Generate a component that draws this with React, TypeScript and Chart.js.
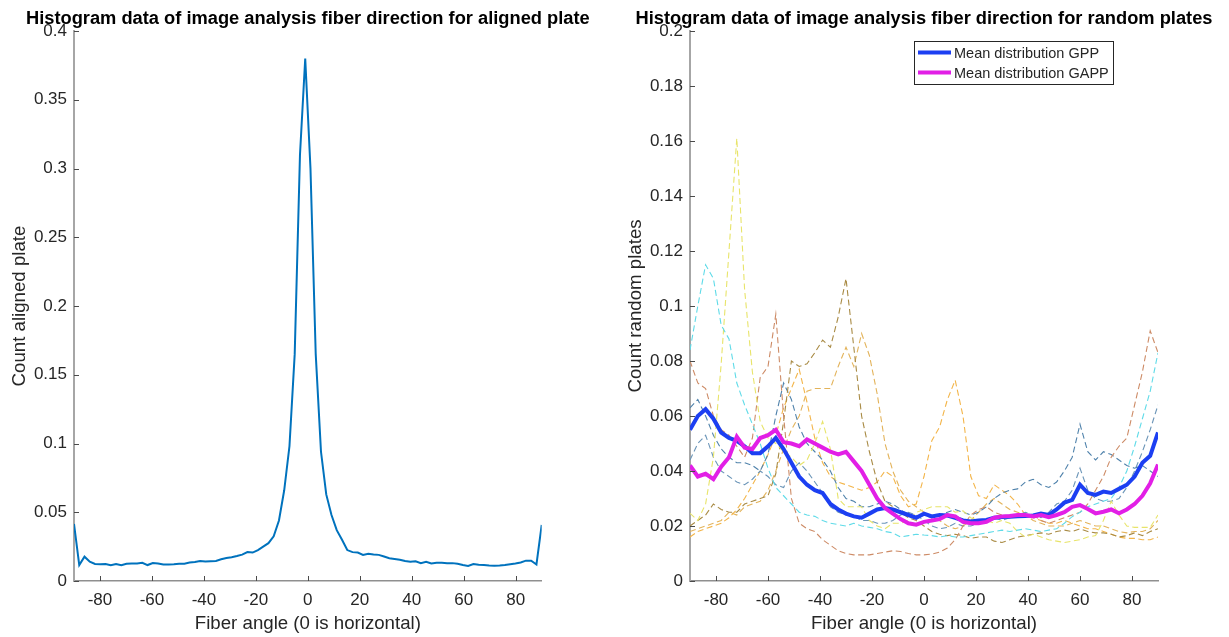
import React, { useEffect, useRef } from 'react';
import { Chart, registerables } from 'chart.js';

Chart.register(...registerables);

const FONT = '"Liberation Sans", Arial, Helvetica, sans-serif';
const TEXT_COLOR = '#262626';

// ---- aligned plate: 90 histogram bins spread over -90..90 degrees ----
const alignedAngles = [
  -90, -87.98, -85.96, -83.93, -81.91, -79.89, -77.87, -75.84, -73.82, -71.8,
  -69.78, -67.75, -65.73, -63.71, -61.69, -59.66, -57.64, -55.62, -53.6, -51.57,
  -49.55, -47.53, -45.51, -43.48, -41.46, -39.44, -37.42, -35.39, -33.37, -31.35,
  -29.33, -27.3, -25.28, -23.26, -21.24, -19.21, -17.19, -15.17, -13.15, -11.12,
  -9.1, -7.08, -5.06, -3.03, -1.01, 1.01, 3.03, 5.06, 7.08, 9.1,
  11.12, 13.15, 15.17, 17.19, 19.21, 21.24, 23.26, 25.28, 27.3, 29.33,
  31.35, 33.37, 35.39, 37.42, 39.44, 41.46, 43.48, 45.51, 47.53, 49.55,
  51.57, 53.6, 55.62, 57.64, 59.66, 61.69, 63.71, 65.73, 67.75, 69.78,
  71.8, 73.82, 75.84, 77.87, 79.89, 81.91, 83.93, 85.96, 87.98, 90,
];
const alignedCounts = [
  0.0415, 0.0116, 0.0177, 0.014, 0.0124, 0.0122, 0.0124, 0.0114, 0.0124, 0.0114,
  0.0125, 0.0128, 0.0128, 0.0133, 0.0116, 0.013, 0.0128, 0.012, 0.012, 0.0122,
  0.0126, 0.0126, 0.0134, 0.0138, 0.0145, 0.0142, 0.0144, 0.0146, 0.0158, 0.0167,
  0.0173, 0.0182, 0.0192, 0.021, 0.0207, 0.0225, 0.025, 0.0275, 0.0325, 0.044,
  0.066, 0.098, 0.165, 0.31, 0.38, 0.3, 0.165, 0.094, 0.063, 0.048,
  0.037, 0.03, 0.0225, 0.021, 0.0207, 0.019, 0.0198, 0.0193, 0.019, 0.0178,
  0.0165, 0.016, 0.0155, 0.0145, 0.014, 0.0143, 0.013, 0.014, 0.0128, 0.0132,
  0.0133, 0.013, 0.013, 0.0125, 0.0116, 0.011, 0.0124, 0.0118, 0.0116, 0.0113,
  0.0111, 0.0113, 0.0116, 0.0122, 0.0128, 0.0135, 0.0148, 0.0148, 0.012, 0.0408,
];

// ---- random plates: sampled every 3 degrees ----
const randomAngles = [
  -90, -87, -84, -81, -78, -75, -72, -69, -66, -63,
  -60, -57, -54, -51, -48, -45, -42, -39, -36, -33,
  -30, -27, -24, -21, -18, -15, -12, -9, -6, -3,
  0, 3, 6, 9, 12, 15, 18, 21, 24, 27,
  30, 33, 36, 39, 42, 45, 48, 51, 54, 57,
  60, 63, 66, 69, 72, 75, 78, 81, 84, 87, 90,
];
const meanGPP = [
  0.055, 0.06, 0.0625, 0.059, 0.054, 0.052, 0.051, 0.049, 0.0465, 0.0465,
  0.049, 0.052, 0.048, 0.043, 0.038, 0.035, 0.033, 0.032, 0.028, 0.026,
  0.0245, 0.0235, 0.023, 0.0245, 0.026, 0.0265, 0.026, 0.025, 0.024, 0.023,
  0.0245, 0.0235, 0.024, 0.0238, 0.023, 0.022, 0.0216, 0.022, 0.0222, 0.023,
  0.0233, 0.0234, 0.0235, 0.0236, 0.0238, 0.0245, 0.024, 0.026, 0.0285, 0.0295,
  0.035, 0.032, 0.0313, 0.0325, 0.032, 0.0335, 0.035, 0.038, 0.043, 0.0455, 0.054,
];
const meanGAPP = [
  0.042, 0.038, 0.039, 0.037, 0.0416, 0.045, 0.0525, 0.0485, 0.048, 0.052,
  0.053, 0.055, 0.0505, 0.05, 0.049, 0.0515, 0.05, 0.0485, 0.047, 0.046,
  0.047, 0.0435, 0.04, 0.035, 0.03, 0.0265, 0.0245, 0.0225, 0.021, 0.0205,
  0.0215, 0.022, 0.0225, 0.024, 0.0235, 0.0215, 0.021, 0.021, 0.0215, 0.023,
  0.0235, 0.0236, 0.024, 0.024, 0.0235, 0.024, 0.0232, 0.024, 0.025, 0.027,
  0.0276, 0.0262, 0.0246, 0.0252, 0.026, 0.0246, 0.026, 0.028, 0.031, 0.0355, 0.0424,
];
const plateCyan = [
  0.084, 0.1, 0.115, 0.11, 0.093, 0.088, 0.072, 0.064, 0.057, 0.05,
  0.041, 0.034, 0.031, 0.028, 0.025, 0.024, 0.0235, 0.022, 0.021, 0.0205,
  0.02, 0.021, 0.02, 0.0195, 0.019, 0.018, 0.0175, 0.016, 0.0165, 0.017,
  0.0167, 0.0165, 0.016, 0.0165, 0.016, 0.016, 0.0165, 0.017, 0.0175, 0.018,
  0.0185, 0.018, 0.0185, 0.019, 0.0185, 0.018, 0.0185, 0.019, 0.021, 0.0234,
  0.025, 0.027, 0.028, 0.029, 0.03, 0.034, 0.04, 0.049, 0.059, 0.069, 0.083,
];
const plateLightYellow = [
  0.0246, 0.022, 0.028, 0.045, 0.079, 0.12, 0.161, 0.106, 0.076, 0.058,
  0.052, 0.05, 0.047, 0.045, 0.042, 0.044, 0.05, 0.058, 0.048, 0.03,
  0.027, 0.027, 0.027, 0.022, 0.02, 0.019, 0.021, 0.021, 0.022, 0.025,
  0.026, 0.027, 0.027, 0.027, 0.025, 0.0255, 0.023, 0.022, 0.022, 0.021,
  0.022, 0.021, 0.018, 0.016, 0.017, 0.016, 0.015, 0.0145, 0.014, 0.0145,
  0.015, 0.016, 0.0165, 0.022, 0.029, 0.024, 0.02, 0.0195, 0.0195, 0.0195, 0.024,
];
const plateBrown = [
  0.08, 0.072, 0.07, 0.06, 0.055, 0.053, 0.049, 0.045, 0.052, 0.074,
  0.078, 0.097, 0.06, 0.03, 0.021, 0.019, 0.018, 0.015, 0.013, 0.011,
  0.01, 0.0095, 0.0095, 0.0095, 0.01, 0.0105, 0.011, 0.0107, 0.01, 0.0095,
  0.0095, 0.0098, 0.0105, 0.012, 0.015, 0.02, 0.024, 0.026, 0.027, 0.025,
  0.024, 0.023, 0.024, 0.024, 0.024, 0.022, 0.021, 0.022, 0.023, 0.024,
  0.025, 0.028, 0.033, 0.038, 0.045, 0.049, 0.052, 0.064, 0.076, 0.091, 0.083,
];
const plateDarkGold = [
  0.02, 0.022, 0.024, 0.028, 0.026, 0.025, 0.025, 0.028, 0.029, 0.03,
  0.031, 0.039, 0.058, 0.08, 0.078, 0.079, 0.083, 0.0876, 0.085, 0.096,
  0.11, 0.085, 0.06, 0.047, 0.036, 0.029, 0.027, 0.025, 0.023, 0.022,
  0.02, 0.018, 0.017, 0.0165, 0.017, 0.0165, 0.0155, 0.016, 0.016, 0.0145,
  0.014, 0.015, 0.016, 0.0165, 0.017, 0.0175, 0.017, 0.018, 0.0185, 0.018,
  0.019, 0.018, 0.0175, 0.0175, 0.017, 0.016, 0.0165, 0.0175, 0.0165, 0.018, 0.019,
];
const plateSteel = [
  0.063, 0.066, 0.06, 0.053, 0.048, 0.045, 0.043, 0.043, 0.042, 0.04,
  0.046, 0.06, 0.072, 0.066, 0.056, 0.05, 0.047, 0.044, 0.04, 0.034,
  0.03, 0.029, 0.027, 0.027, 0.028, 0.029, 0.028, 0.026, 0.024, 0.023,
  0.024, 0.023, 0.024, 0.025, 0.026, 0.025, 0.024, 0.025, 0.027, 0.03,
  0.032, 0.033, 0.0335, 0.036, 0.037, 0.035, 0.034, 0.036, 0.04, 0.045,
  0.057, 0.047, 0.044, 0.047, 0.046, 0.044, 0.042, 0.041, 0.042, 0.04, 0.038,
];
const plateSlate = [
  0.044, 0.05, 0.053, 0.045, 0.04, 0.038, 0.036, 0.035, 0.037, 0.04,
  0.038, 0.035, 0.034, 0.04, 0.043, 0.04, 0.036, 0.032, 0.027, 0.025,
  0.024, 0.0235, 0.022, 0.022, 0.021, 0.021, 0.022, 0.024, 0.025, 0.024,
  0.022, 0.02, 0.019, 0.0195, 0.021, 0.02, 0.02, 0.021, 0.022, 0.023,
  0.022, 0.023, 0.024, 0.025, 0.024, 0.023, 0.025, 0.028, 0.029, 0.033,
  0.041, 0.033, 0.03, 0.029, 0.029, 0.03, 0.034, 0.04, 0.047, 0.055, 0.064,
];
const plateOrange = [
  0.016, 0.018, 0.019, 0.02, 0.021, 0.023, 0.026, 0.03, 0.035, 0.04,
  0.046, 0.053, 0.063, 0.07, 0.077, 0.065, 0.052, 0.043, 0.038, 0.036,
  0.035, 0.034, 0.033, 0.034, 0.036, 0.04, 0.038, 0.031, 0.027, 0.028,
  0.038, 0.051, 0.056, 0.066, 0.073, 0.06, 0.038, 0.031, 0.03, 0.035,
  0.033, 0.031, 0.028, 0.024, 0.023, 0.022, 0.021, 0.021, 0.022, 0.021,
  0.02, 0.019, 0.019, 0.018, 0.017, 0.016, 0.0155, 0.0155, 0.015, 0.015, 0.016,
];
const plateAmber = [
  0.018, 0.019, 0.02, 0.021, 0.022, 0.025, 0.024, 0.027, 0.028, 0.029,
  0.033, 0.04, 0.048, 0.055, 0.06, 0.069, 0.07, 0.07, 0.07, 0.078,
  0.085, 0.078, 0.09, 0.082, 0.068, 0.05, 0.04, 0.033, 0.029, 0.027,
  0.025, 0.023, 0.022, 0.02, 0.019, 0.02, 0.022, 0.025, 0.028, 0.03,
  0.028, 0.026, 0.025, 0.024, 0.022, 0.021, 0.02, 0.02, 0.02, 0.021,
  0.022, 0.021, 0.02, 0.02, 0.019, 0.018, 0.0175, 0.018, 0.018, 0.019, 0.022,
];

const angleTicks = [-80, -60, -40, -20, 0, 20, 40, 60, 80];
const alignedYTicks = [0, 0.05, 0.1, 0.15, 0.2, 0.25, 0.3, 0.35, 0.4];
const randomYTicks = [0, 0.02, 0.04, 0.06, 0.08, 0.1, 0.12, 0.14, 0.16, 0.18, 0.2];

const plateSeries = [
  { values: plateCyan, color: '#5fdbe8' },
  { values: plateLightYellow, color: '#e8e46a' },
  { values: plateBrown, color: '#cd8b66' },
  { values: plateDarkGold, color: '#a98b45' },
  { values: plateSteel, color: '#4f82ab' },
  { values: plateSlate, color: '#6b95b8' },
  { values: plateOrange, color: '#f3b54a' },
  { values: plateAmber, color: '#e3b35a' },
];

const toPoints = (xs: number[], ys: number[]) => xs.map((x, i) => ({ x, y: ys[i] }));

// MATLAB-like axes: inward tick marks and a bold title centred on the plot area
const axesDecor = {
  id: 'axesDecor',
  afterDraw(chart: any, _args: any, opts: any) {
    const { ctx, chartArea, scales } = chart;
    ctx.save();
    ctx.strokeStyle = '#4a4a4a';
    ctx.lineWidth = 1;
    const len = 5;
    for (const t of scales.x.ticks) {
      const px = Math.round(scales.x.getPixelForValue(t.value)) + 0.5;
      ctx.beginPath();
      ctx.moveTo(px, chartArea.bottom);
      ctx.lineTo(px, chartArea.bottom - len);
      ctx.stroke();
    }
    for (const t of scales.y.ticks) {
      const py = Math.round(scales.y.getPixelForValue(t.value)) + 0.5;
      ctx.beginPath();
      ctx.moveTo(chartArea.left, py);
      ctx.lineTo(chartArea.left + len, py);
      ctx.stroke();
    }
    if (opts && opts.title) {
      ctx.font = `bold 18.3px ${FONT}`;
      ctx.fillStyle = '#000';
      ctx.textAlign = 'center';
      ctx.textBaseline = 'alphabetic';
      ctx.fillText(opts.title, (chartArea.left + chartArea.right) / 2, 24);
    }
    ctx.restore();
  },
};

// boxed legend in the upper right of the plot area
const boxLegend = {
  id: 'boxLegend',
  afterDraw(chart: any, _args: any, opts: any) {
    if (!opts || !opts.show) return;
    const { ctx, chartArea } = chart;
    const items = chart.data.datasets.filter((d: any) => d.inLegend);
    ctx.save();
    ctx.font = `14.5px ${FONT}`;
    const textW = Math.max(...items.map((d: any) => ctx.measureText(d.label).width));
    const w = Math.round(40 + textW + 4);
    const h = 43;
    const x = Math.round(chartArea.right - 45 - w);
    const y = Math.round(chartArea.top + 10);
    ctx.fillStyle = '#fff';
    ctx.fillRect(x, y, w, h);
    ctx.strokeStyle = '#262626';
    ctx.lineWidth = 1;
    ctx.strokeRect(x + 0.5, y + 0.5, w, h);
    items.forEach((d: any, i: number) => {
      const cy = y + 11.5 + i * 20;
      ctx.strokeStyle = d.borderColor;
      ctx.lineWidth = 4;
      ctx.beginPath();
      ctx.moveTo(x + 4, cy);
      ctx.lineTo(x + 37, cy);
      ctx.stroke();
      ctx.fillStyle = TEXT_COLOR;
      ctx.textAlign = 'left';
      ctx.textBaseline = 'middle';
      ctx.fillText(d.label, x + 40, cy + 1);
    });
    ctx.restore();
  },
};

const formatTick = (v: number) => String(Math.round(v * 1000) / 1000);

function makeScales(yTicks: number[], yMax: number, yTitle: string, yWidth: number, yTitlePad: number) {
  return {
    x: {
      type: 'linear',
      min: -90,
      max: 90,
      afterBuildTicks: (s: any) => { s.ticks = angleTicks.map((v) => ({ value: v })); },
      afterFit: (s: any) => { s.height = 56; },
      grid: { display: false, drawTicks: false },
      border: { display: true, color: '#8f8f8f', width: 1.5 },
      ticks: {
        padding: 9,
        color: TEXT_COLOR,
        autoSkip: false,
        maxRotation: 0,
        font: { family: FONT, size: 17 },
        callback: (v: number) => String(v),
      },
      title: {
        display: true,
        text: 'Fiber angle (0 is horizontal)',
        color: TEXT_COLOR,
        font: { family: FONT, size: 18.67 },
        padding: { top: 0, bottom: 2 },
      },
    },
    y: {
      type: 'linear',
      min: 0,
      max: yMax,
      afterBuildTicks: (s: any) => { s.ticks = yTicks.map((v) => ({ value: v })); },
      afterFit: (s: any) => { s.width = yWidth; },
      grid: { display: false, drawTicks: false },
      border: { display: true, color: '#a6a6a6', width: 2 },
      ticks: {
        padding: 7,
        color: TEXT_COLOR,
        autoSkip: false,
        font: { family: FONT, size: 17 },
        callback: (v: number) => formatTick(v),
      },
      title: {
        display: true,
        text: yTitle,
        color: TEXT_COLOR,
        font: { family: FONT, size: 18.67 },
        padding: { top: yTitlePad, bottom: 0 },
      },
    },
  };
}

export default function App() {
  const leftRef = useRef<HTMLCanvasElement>(null);
  const rightRef = useRef<HTMLCanvasElement>(null);

  useEffect(() => {
    const left = new Chart(leftRef.current as HTMLCanvasElement, {
      type: 'line',
      data: {
        datasets: [
          {
            data: toPoints(alignedAngles, alignedCounts),
            borderColor: '#0072BD',
            borderWidth: 2,
            pointRadius: 0,
            tension: 0,
            fill: false,
          },
        ],
      },
      options: {
        responsive: false,
        animation: false,
        devicePixelRatio: 1,
        layout: { padding: { top: 31, left: 0, right: 73.3, bottom: 0 } },
        scales: makeScales(alignedYTicks, 0.4, 'Count aligned plate', 74, 9) as any,
        plugins: {
          legend: { display: false },
          tooltip: { enabled: false },
          axesDecor: { title: 'Histogram data of image analysis fiber direction for aligned plate' },
        } as any,
      },
      plugins: [axesDecor],
    });

    const dashed = plateSeries.map((s) => ({
      data: toPoints(randomAngles, s.values),
      borderColor: s.color,
      borderWidth: 1.1,
      borderDash: [6, 3.5],
      pointRadius: 0,
      tension: 0,
      fill: false,
      order: 2,
    }));

    const right = new Chart(rightRef.current as HTMLCanvasElement, {
      type: 'line',
      data: {
        datasets: [
          {
            label: 'Mean distribution GPP',
            inLegend: true,
            data: toPoints(randomAngles, meanGPP),
            borderColor: '#1c3ff2',
            borderWidth: 4,
            pointRadius: 0,
            tension: 0,
            fill: false,
            order: 1,
          },
          {
            label: 'Mean distribution GAPP',
            inLegend: true,
            data: toPoints(randomAngles, meanGAPP),
            borderColor: '#e21fe6',
            borderWidth: 4,
            pointRadius: 0,
            tension: 0,
            fill: false,
            order: 0,
          },
          ...dashed,
        ] as any,
      },
      options: {
        responsive: false,
        animation: false,
        devicePixelRatio: 1,
        layout: { padding: { top: 31, left: 0, right: 71, bottom: 0 } },
        scales: makeScales(randomYTicks, 0.2, 'Count random plates', 75, 10) as any,
        plugins: {
          legend: { display: false },
          tooltip: { enabled: false },
          axesDecor: { title: 'Histogram data of image analysis fiber direction for random plates' },
          boxLegend: { show: true },
        } as any,
      },
      plugins: [axesDecor, boxLegend],
    });

    return () => {
      left.destroy();
      right.destroy();
    };
  }, []);

  return (
    <div
      style={{
        position: 'absolute',
        left: 0,
        top: 0,
        width: 1229,
        height: 637,
        background: '#fff',
        overflow: 'hidden',
      }}
    >
      <canvas ref={leftRef} width={615} height={637} style={{ position: 'absolute', left: 0, top: 0 }} />
      <canvas ref={rightRef} width={614} height={637} style={{ position: 'absolute', left: 615, top: 0 }} />
    </div>
  );
}
